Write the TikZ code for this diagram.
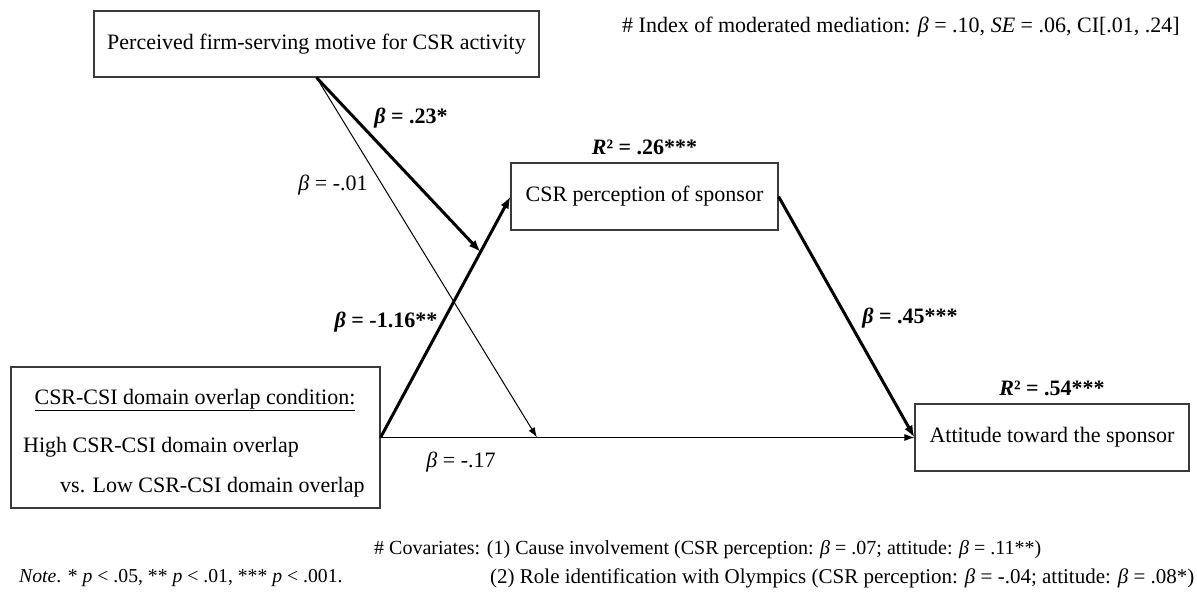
\documentclass[tikz,border=0pt]{standalone}
\usepackage{fontspec}
\setmainfont{Liberation Serif}
\usetikzlibrary{arrows.meta, positioning, calc}
\definecolor{boxgray}{HTML}{3a3a3a}

\begin{document}
\begin{tikzpicture}[x=1pt, y=-1pt,
  var/.style={rectangle, draw=boxgray, line width=1.1pt, font=\fontsize{22}{26}\selectfont, text centered, inner sep=0pt},
  coef/.style={font=\fontsize{22}{26}\selectfont, inner sep=0pt},
  bcoef/.style={coef, font=\fontsize{22}{26}\selectfont\bfseries},
  notetext/.style={font=\fontsize{21}{25}\selectfont, anchor=west, inner sep=0pt},
  sig/.style={-{Latex[length=12pt, width=9pt]}, line width=3pt},
  nsig/.style={-{Latex[length=10pt, width=7pt]}, line width=1pt},
]
\useasboundingbox (0,0) rectangle (1197,592);

% variables
\node[var, minimum width=445pt, minimum height=66pt] (motive) at (316.5,44) {Perceived firm-serving motive for CSR activity};
\node[var, minimum width=267pt, minimum height=67pt] (csr) at (644.5,196.5) {CSR perception of sponsor};
\node[var, minimum width=369pt, minimum height=141pt] (overlap) at (195.5,437.5) {};
\node[var, minimum width=274pt, minimum height=67pt] (att) at (1052,437.5) {Attitude toward the sponsor};

\node[coef] (ovhead) at (195,400) {\underline{CSR-CSI domain overlap condition:}};
\node[coef, anchor=west] (ovhigh) at (23,447) {High CSR-CSI domain overlap};
\node[coef, anchor=west] (ovlow) at (60,487) {vs. Low CSR-CSI domain overlap};

% R squared
\node[bcoef, above=7pt of csr] (rcsr) {\textit{R}² = .26***};
\node[bcoef, above=7pt of att] (ratt) {\textit{R}² = .54***};

% paths
\coordinate (amid) at ($(overlap.east)!0.77!(csr.west)$);
\coordinate (cmid) at ($(overlap.east)!0.293!(att.west)$);
\draw[sig] (overlap.east) -- (csr.west);
\draw[sig] (csr.east) -- (att.west);
\draw[nsig] (overlap.east) -- (att.west);
\draw[sig] (motive.south) -- (amid);
\draw[nsig] (motive.south) -- (cmid);

% coefficients
\node[bcoef] (b23) at (411,118) {\textit{β} = .23*};
\node[coef] (b01) at (333,185) {\textit{β} = -.01};
\node[bcoef] (b116) at (386,322) {\textit{β} = -1.16**};
\node[bcoef] (b45) at (910,318) {\textit{β} = .45***};
\node[coef] (b17) at (461,462) {\textit{β} = -.17};

% notes
\node[notetext, font=\fontsize{22}{26}\selectfont] (index) at (622,27) {\# Index of moderated mediation: \textit{β} = .10, \textit{SE} = .06, CI[.01, .24]};
\node[notetext, font=\fontsize{20}{24}\selectfont] (cov1) at (374,550) {\# Covariates: (1) Cause involvement (CSR perception: \textit{β} = .07; attitude: \textit{β} = .11**)};
\node[notetext] (cov2) at (490,578) {(2) Role identification with Olympics (CSR perception: \textit{β} = -.04; attitude: \textit{β} = .08*)};
\node[notetext, font=\fontsize{19.7}{24}\selectfont] (sign) at (19,578) {\textit{Note}. * \textit{p} < .05, ** \textit{p} < .01, *** \textit{p} < .001.};
\end{tikzpicture}
\end{document}
